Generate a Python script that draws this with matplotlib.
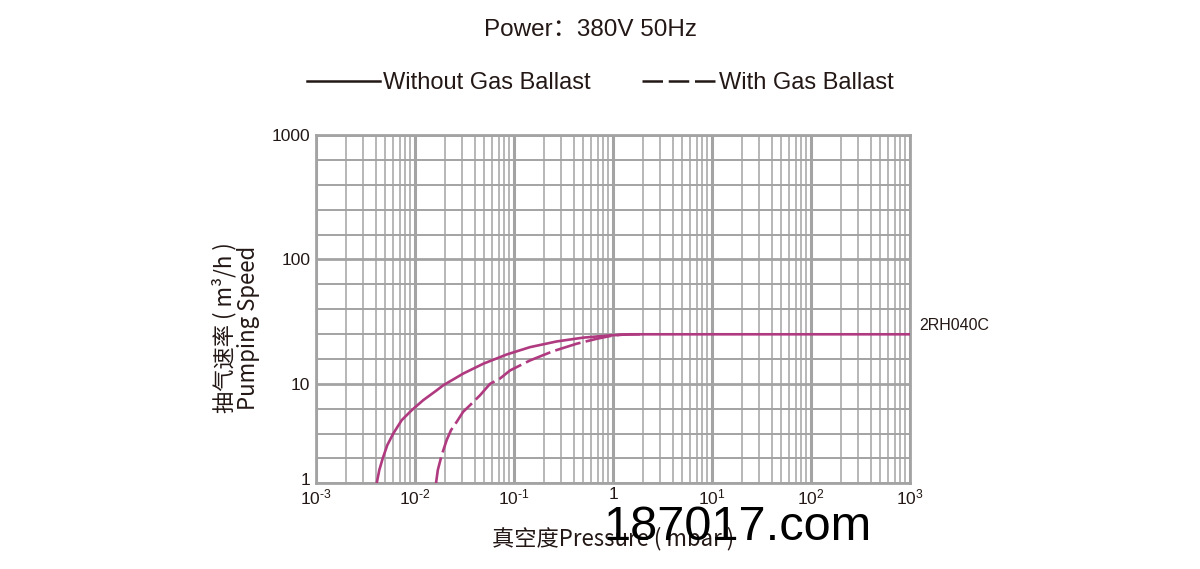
import numpy as np
import matplotlib
matplotlib.use("Agg")
import matplotlib.pyplot as plt
import matplotlib.transforms as mtransforms
from matplotlib.lines import Line2D
from matplotlib.ticker import FixedLocator, NullFormatter, NullLocator

# données (pression en mbar, débit en m3/h)
p_sans_lest = [0.0041, 0.00436, 0.00472, 0.00525, 0.00604, 0.00734, 0.00927, 0.0121,
               0.0166, 0.0193, 0.0308, 0.049, 0.0844, 0.145, 0.27, 0.501, 0.933, 1.49,
               10, 100, 1000]
s_sans_lest = [1.0, 1.36, 1.78, 2.42, 3.17, 4.31, 5.43, 6.84,
               8.61, 9.66, 12.1, 14.5, 17.2, 19.7, 21.9, 23.5, 24.5, 25,
               25, 25, 25]

p_avec_lest = [0.0163, 0.0170, 0.0186, 0.0209, 0.0231, 0.0264, 0.0306, 0.036, 0.0454,
               0.0573, 0.072, 0.0912, 0.145, 0.249, 0.43, 0.684, 0.933, 1.18, 1.87]
s_avec_lest = [1.0, 1.36, 1.92, 2.72, 3.42, 4.15, 5.22, 6.1, 7.67,
               10.0, 11.0, 12.8, 15.4, 18.3, 21.0, 23.0, 24.2, 24.8, 25]

x_ticks = [1e-3, 1e-2, 1e-1, 1, 10, 100, 1000]
x_labels = [r"$10^{\text{-}3}$", r"$10^{\text{-}2}$", r"$10^{\text{-}1}$", "1",
            r"$10^{1}$", r"$10^{2}$", r"$10^{3}$"]
y_ticks = [1, 10, 100, 1000]
y_labels = ["1", "10", "100", "1000"]
modele = "2RH040C"

COULEUR = "#b03a80"
GRILLE = "#a3a3a3"
TEXTE = "#231815"
CJK = ["Noto Sans CJK SC", "DejaVu Sans"]

plt.rcParams["font.family"] = ["Liberation Sans", "Noto Sans CJK SC", "DejaVu Sans"]
plt.rcParams["axes.unicode_minus"] = False
plt.rcParams["mathtext.fontset"] = "custom"
plt.rcParams["mathtext.rm"] = "Liberation Sans"
plt.rcParams["mathtext.it"] = "Liberation Sans"


# échelle du graphique d'origine : 4 pas pour la décade 1-10, 5 pas pour les suivantes
def aller(y):
    l = np.log10(np.clip(y, 1e-6, None))
    return np.where(l <= 1, 4 * l, 4 + 5 * (l - 1))


def retour(s):
    s = np.asarray(s, dtype=float)
    return np.where(s <= 4, 10 ** (s / 4), 10 ** (1 + (s - 4) / 5))


fig = plt.figure(figsize=(12, 5.69), dpi=100)
ax = fig.add_axes([316 / 1200, 1 - 483.3 / 569, 594 / 1200, 348.3 / 569])

ax.set_xscale("log")
ax.set_yscale("function", functions=(aller, retour))
ax.set_xlim(1e-3, 1e3)
ax.set_ylim(1, 1000)

# grille
for d in range(-3, 3):
    for m in range(2, 10):
        ax.axvline(m * 10.0 ** d, color=GRILLE, lw=1.1, zorder=1)
for d in x_ticks:
    ax.axvline(d, color=GRILLE, lw=2.2, zorder=1)
for s in range(15):
    v = float(retour(s))
    ax.axhline(v, color=GRILLE, lw=2.0 if v in (1, 10, 100, 1000) else 1.4, zorder=1)

for sp in ax.spines.values():
    sp.set_color(GRILLE)
    sp.set_linewidth(2.0)

ax.plot(p_avec_lest, s_avec_lest, color=COULEUR, lw=1.9, ls=(0, (10, 2)), zorder=3,
        solid_joinstyle="round")
ax.plot(p_sans_lest, s_sans_lest, color=COULEUR, lw=1.9, zorder=4, solid_joinstyle="round")

ax.annotate(modele, xy=(p_sans_lest[-1], s_sans_lest[-1]), xytext=(7, 6),
            textcoords="offset points", fontsize=11.5, color=TEXTE, va="center", ha="left",
            annotation_clip=False)

ax.xaxis.set_major_locator(FixedLocator(x_ticks))
ax.set_xticklabels(x_labels)
ax.xaxis.set_minor_locator(NullLocator())
ax.xaxis.set_minor_formatter(NullFormatter())
ax.yaxis.set_major_locator(FixedLocator(y_ticks))
ax.set_yticklabels(y_labels)
ax.yaxis.set_minor_locator(NullLocator())
ax.tick_params(length=0, labelsize=12.5, labelcolor=TEXTE, pad=4)
ax.tick_params(axis="x", pad=3)

# le "1" de l'axe y est un peu remonté, comme sur l'original
lab1 = ax.get_yticklabels()[0]
lab1.set_transform(lab1.get_transform() + mtransforms.ScaledTranslation(0, 3 / 72, fig.dpi_scale_trans))

ax.set_xlabel("真空度Pressure ( mbar )", fontsize=16, color=TEXTE, family=CJK, labelpad=14)
ax.set_ylabel("抽气速率 ( m³/h )\nPumping Speed", fontsize=16, color=TEXTE, family=CJK,
              linespacing=1.05)
ax.yaxis.set_label_coords(-0.094, 0.446)

fig.text(0.4925, 0.9475, "Power：380V 50Hz", ha="center", va="center", fontsize=17.5,
         color=TEXTE, family=["Liberation Sans", "Noto Sans CJK SC"])

poignees = [Line2D([], [], color=TEXTE, lw=1.8),
            Line2D([], [], color=TEXTE, lw=1.8, ls=(0, (8.2, 2.3)))]
fig.legend(poignees, ["Without Gas Ballast", "With Gas Ballast"], loc="center",
           bbox_to_anchor=(0.5, 0.854), ncol=2, frameon=False, fontsize=17,
           handlelength=3.1, handletextpad=0.13, columnspacing=2.2, labelcolor=TEXTE)

# filigrane
fig.text(0.6146, 0.051, "187017.com", ha="center", va="baseline", fontsize=35,
         color="black", family="Liberation Sans")

fig.savefig("out.png", dpi=100)
